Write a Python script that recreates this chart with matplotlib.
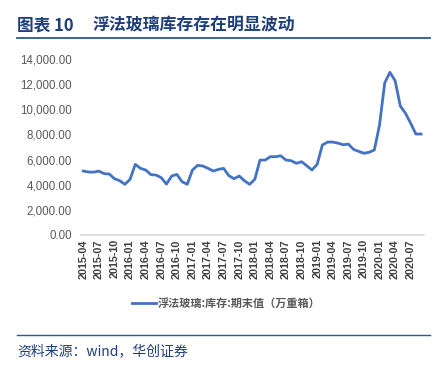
import matplotlib
matplotlib.use('Agg')
import matplotlib.pyplot as plt
from matplotlib.lines import Line2D
from matplotlib.ticker import FuncFormatter

plt.rcParams['font.family'] = ['Noto Sans CJK SC', 'DejaVu Sans']

# monthly, 2015-04 .. 2020-09
months = []
for y in range(2015, 2021):
    for m in range(1, 13):
        if (y == 2015 and m < 4) or (y == 2020 and m > 9):
            continue
        months.append('%d-%02d' % (y, m))

inventory = [5090, 5010, 5000, 5080, 4880, 4850, 4480, 4320, 4030, 4430,
             5620, 5300, 5170, 4800, 4770, 4560, 4050, 4690, 4820, 4240,
             4030, 5170, 5540, 5490, 5300, 5090, 5220, 5300, 4720, 4480,
             4690, 4320, 4030, 4430, 5960, 5960, 6230, 6230, 6300, 5960,
             5910, 5700, 5830, 5510, 5170, 5620, 7160, 7390, 7390, 7310,
             7180, 7230, 6810, 6650, 6500, 6580, 6760, 8750, 12100, 12940,
             12270, 10260, 9680, 8880, 8030, 8030]

series_name = '浮法玻璃:库存:期末值（万重箱）'
title_no = '图表 10'
title = '浮法玻璃库存存在明显波动'
source = '资料来源：wind，华创证券'

navy = '#1F3F7A'

fig = plt.figure(figsize=(4.45, 3.70), dpi=100)

# title and rules
fig.text(17 / 445, 1 - 25 / 370, title_no, fontsize=12, fontweight='bold',
         color=navy, va='center', ha='left')
fig.text(93 / 445, 1 - 25 / 370, title, fontsize=12.2, fontweight='bold',
         color=navy, va='center', ha='left')
fig.add_artist(Line2D([17 / 445, 430 / 445], [1 - 38 / 370, 1 - 38 / 370],
                      color='#2F5597', lw=1.3))
fig.add_artist(Line2D([17 / 445, 430 / 445], [1 - 335 / 370, 1 - 335 / 370],
                      color='#2F5597', lw=1.0))
fig.text(17 / 445, 1 - 351 / 370, source, fontsize=10, color=navy,
         va='center', ha='left', style='italic')

ax = fig.add_axes([80.7 / 445, 1 - 235 / 370, 343 / 445, 176 / 370])
x = list(range(len(months)))
ax.plot(x, inventory, color='#4472C4', lw=2.0, solid_joinstyle='round')

ax.set_ylim(0, 14000)
ax.set_yticks(range(0, 14001, 2000))
ax.yaxis.set_major_formatter(FuncFormatter(lambda v, p: '{:,.2f}'.format(v)))
ax.set_xlim(-0.5, len(months) - 0.5)
ax.set_xticks(x[::3])
ax.set_xticklabels(months[::3], rotation=90, fontsize=7.8, fontweight='bold',
                   color='#404040', family=['Liberation Sans'])
for lab in ax.get_yticklabels():
    lab.set_family(['Liberation Sans'])
ax.tick_params(axis='y', length=0, labelsize=8.3, labelcolor='#595959', pad=6.5)
ax.tick_params(axis='x', length=0, pad=3)

for s in ['top', 'right', 'left']:
    ax.spines[s].set_visible(False)
ax.spines['bottom'].set_color('#D9D9D9')
ax.spines['bottom'].set_linewidth(1.2)

# legend
fig.add_artist(Line2D([132 / 445, 156 / 445], [1 - 303 / 370, 1 - 303 / 370],
                      color='#4472C4', lw=2.0))
fig.text(158 / 445, 1 - 303 / 370, series_name, fontsize=8,
         fontweight='bold', color='#595959', va='center', ha='left')

fig.savefig('out.png', dpi=100)
